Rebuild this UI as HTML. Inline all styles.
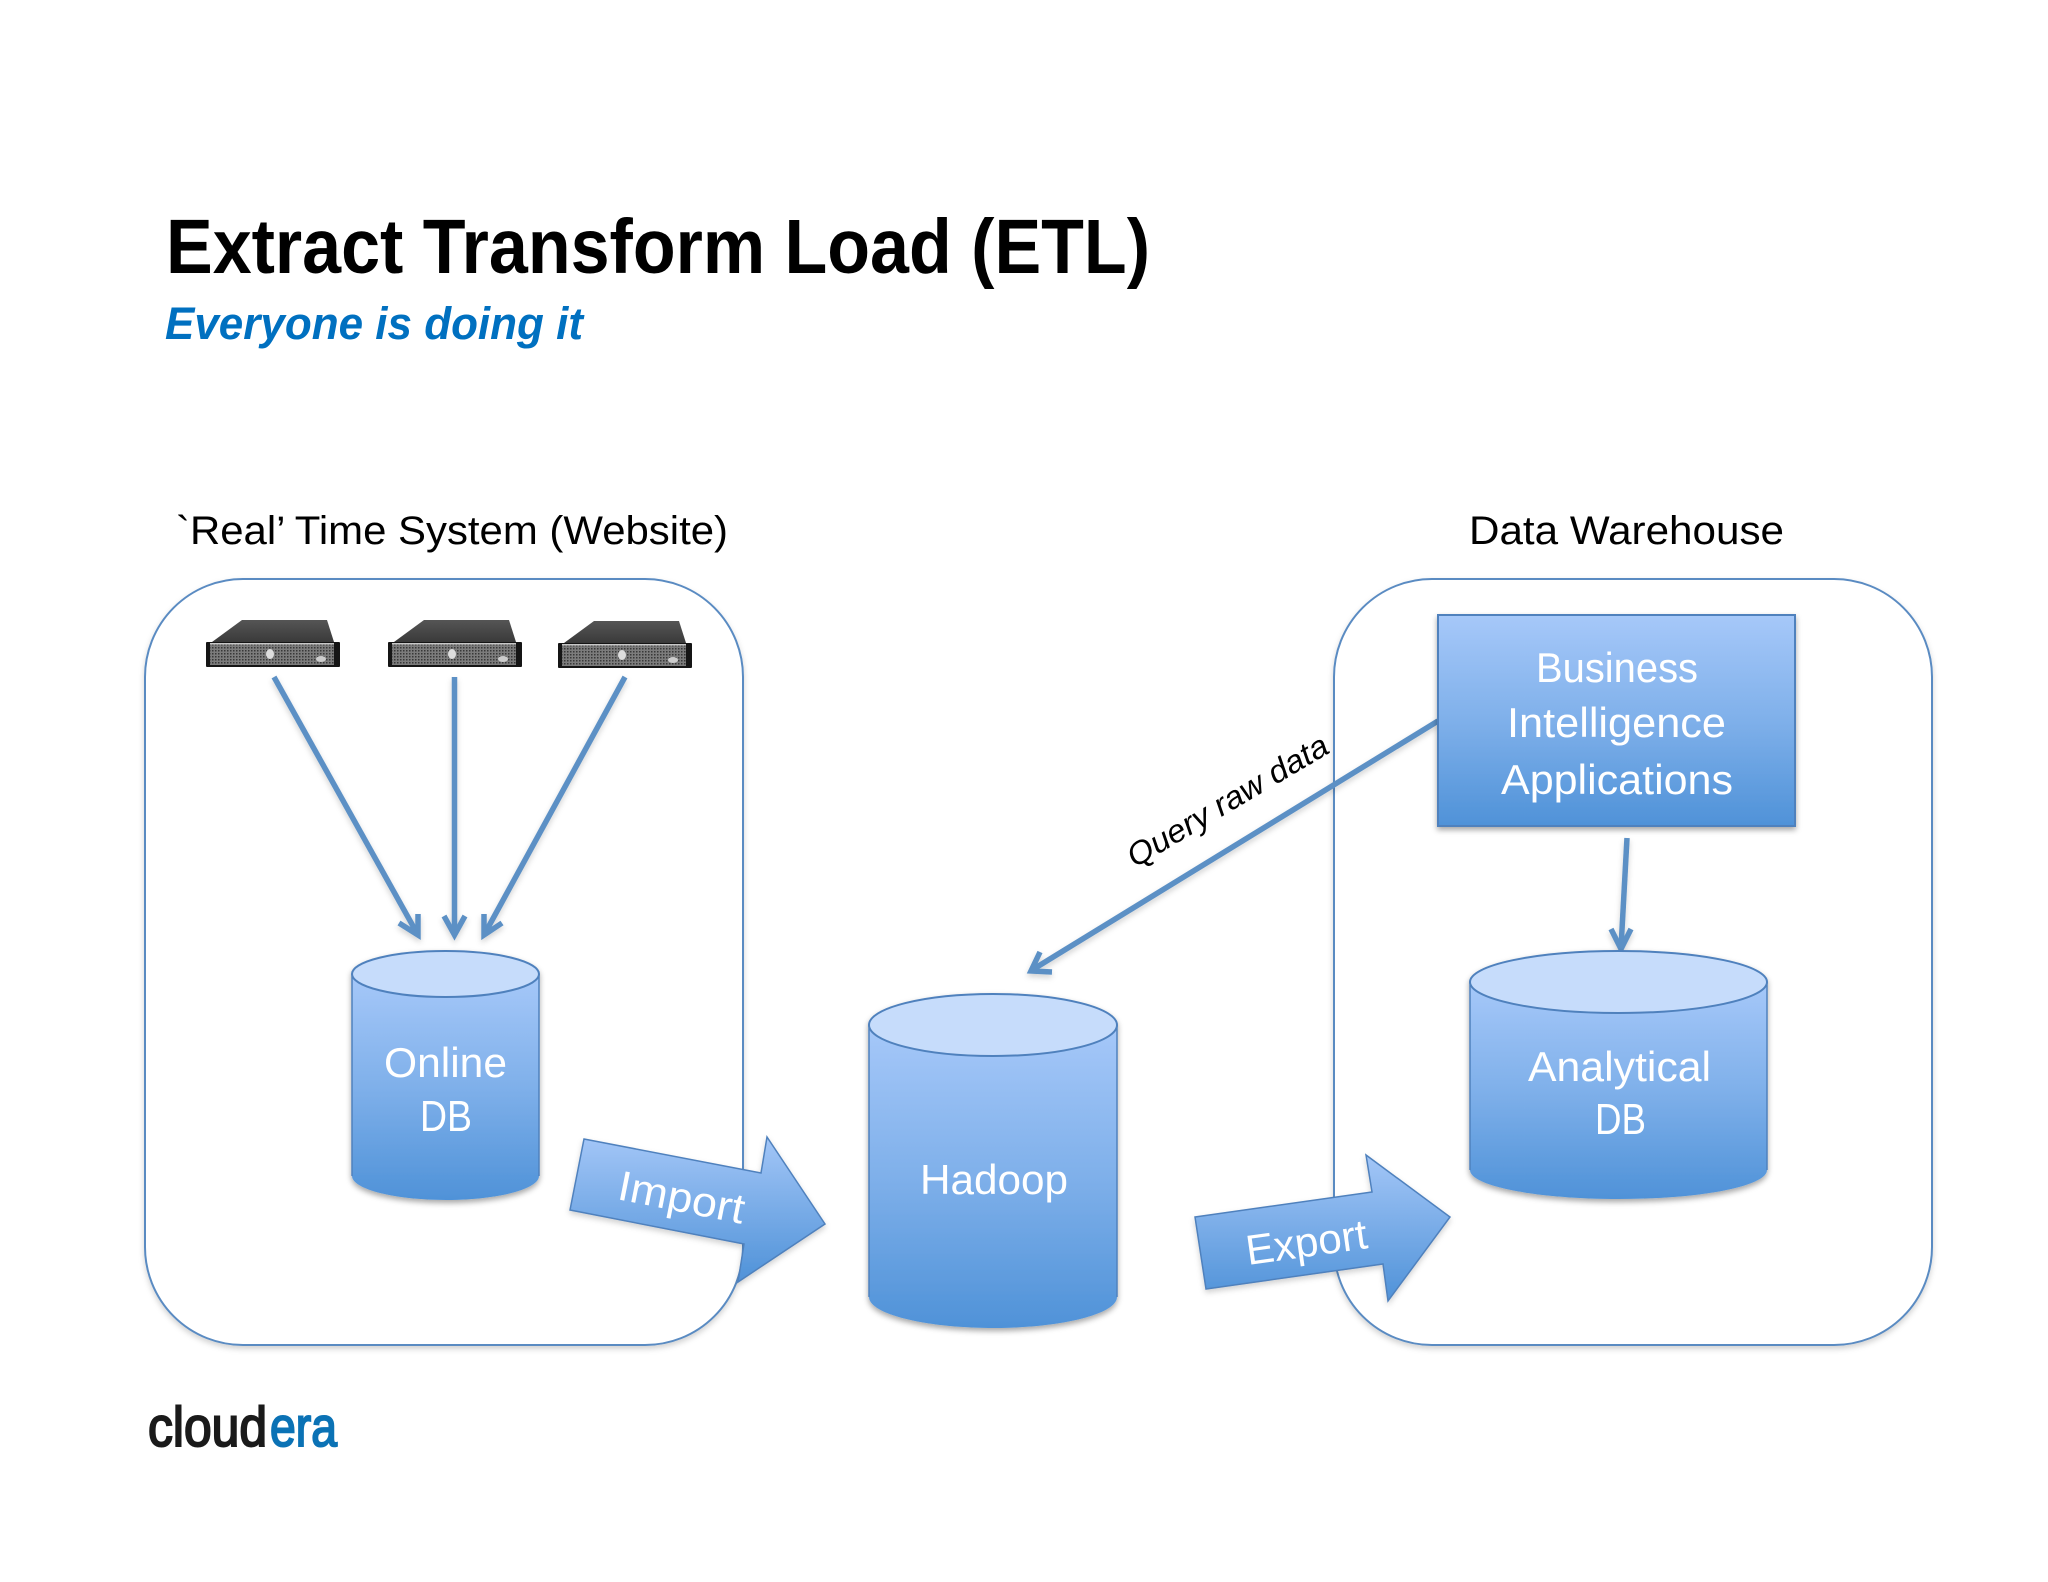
<!DOCTYPE html>
<html><head><meta charset="utf-8"><title>Extract Transform Load (ETL)</title>
<style>html,body{margin:0;padding:0;background:#fff}svg{display:block}text{font-family:"Liberation Sans",sans-serif}</style></head>
<body>
<svg width="2048" height="1582" viewBox="0 0 2048 1582" xmlns="http://www.w3.org/2000/svg">
<defs>
<linearGradient id="g" x1="0" y1="0" x2="0" y2="1"><stop offset="0" stop-color="#a6c8f9"/><stop offset=".5" stop-color="#7fb0ea"/><stop offset="1" stop-color="#4f92d8"/></linearGradient>
<linearGradient id="ga" x1="0" y1="0" x2="0" y2="1"><stop offset="0" stop-color="#a3c6f7"/><stop offset="1" stop-color="#4f92d8"/></linearGradient>
<linearGradient id="lid" x1="0" y1="0" x2="0" y2="1"><stop offset="0" stop-color="#555"/><stop offset="1" stop-color="#3a3a3a"/></linearGradient>
<pattern id="mesh" width="3" height="3" patternUnits="userSpaceOnUse"><rect width="3" height="3" fill="#7c7c7c"/><rect width="1.5" height="1.5" fill="#383838"/></pattern>
<filter id="s" x="-20%" y="-20%" width="140%" height="140%"><feDropShadow dx="0" dy="3" stdDeviation="3" flood-color="#000" flood-opacity=".35"/></filter>
<filter id="sl" x="-10%" y="-10%" width="120%" height="120%"><feDropShadow dx="0" dy="3" stdDeviation="3" flood-color="#000" flood-opacity=".18"/></filter>
<g id="srv">
<polygon points="36,0 121,0 128,22 6,22" fill="url(#lid)"/>
<rect x="0" y="22" width="134" height="25" rx="1" fill="#151515"/>
<rect x="4" y="24" width="124" height="21" fill="url(#mesh)"/>
<rect x="4" y="23" width="124" height="1.5" fill="#c8c8c8"/>
<ellipse cx="64" cy="34" rx="4" ry="5" fill="#ddd"/>
<ellipse cx="115" cy="39" rx="5" ry="3" fill="#ccc"/>
</g>
</defs>

<text x="166" y="273" font-size="77" font-weight="700" fill="#000" textLength="984" lengthAdjust="spacingAndGlyphs">Extract Transform Load (ETL)</text>
<text x="165" y="339" font-size="45" font-weight="700" font-style="italic" fill="#0070c0" textLength="418" lengthAdjust="spacingAndGlyphs">Everyone is doing it</text>
<text x="176" y="544" font-size="40" fill="#000" textLength="552" lengthAdjust="spacingAndGlyphs">`Real’ Time System (Website)</text>
<text x="1469" y="544" font-size="40" fill="#000" textLength="315" lengthAdjust="spacingAndGlyphs">Data Warehouse</text>

<rect x="145" y="579" width="598" height="766" rx="98" ry="98" fill="#fff" stroke="#5a8bc2" stroke-width="2" filter="url(#sl)"/>
<rect x="1336" y="579" width="598" height="766" rx="98" ry="98" fill="#fff" stroke="#5a8bc2" stroke-width="2" filter="url(#sl)" transform="translate(-2 0)"/>

<use href="#srv" x="206" y="620"/>
<use href="#srv" x="388" y="620"/>
<use href="#srv" x="558" y="621"/>

<g fill="none" stroke="#5b90c5" stroke-width="5.5" filter="url(#sl)">
<path d="M274 677L418 935"/><path d="M399 923L418 935L418 914"/>
<path d="M454.500 677V935"/><path d="M444 916L454.500 935L465 916"/>
<path d="M625 677L484 935"/><path d="M484 914L484 935L502 923"/>
<path d="M1438 721L1032 970"/><path d="M1040 952L1031 971L1052 972"/>
<path d="M1627 838L1621 948"/><path d="M1611 929L1621 949L1631 929"/>
</g>

<text x="0" y="0" font-size="32" font-style="italic" fill="#000" transform="translate(1135 868) rotate(-30.6)" textLength="228" lengthAdjust="spacingAndGlyphs">Query raw data</text>

<!-- Online DB -->
<g filter="url(#s)">
<path d="M352 974V1176C352 1189 394 1200 446 1200S539 1189 539 1176V974Z" fill="url(#g)"/>
<path d="M352 974V1176M539 974V1176" stroke="#4f81bd" stroke-width="1.5"/>
<ellipse cx="445.500" cy="974" rx="93.500" ry="23" fill="#c6dcfb" stroke="#4f81bd" stroke-width="2"/>
</g>
<text x="384" y="1077" font-size="42" fill="#fff" textLength="123" lengthAdjust="spacingAndGlyphs">Online</text>
<text x="420" y="1131" font-size="44" fill="#fff" textLength="52" lengthAdjust="spacingAndGlyphs">DB</text>

<!-- Hadoop -->
<g filter="url(#s)">
<path d="M869 1025V1297C869 1314 925 1328 993 1328S1117 1314 1117 1297V1025Z" fill="url(#g)"/>
<path d="M869 1025V1297M1117 1025V1297" stroke="#4f81bd" stroke-width="1.5"/>
<ellipse cx="993" cy="1025" rx="124" ry="31" fill="#c6dcfb" stroke="#4f81bd" stroke-width="2"/>
</g>
<text x="920" y="1194" font-size="42" fill="#fff" textLength="148" lengthAdjust="spacingAndGlyphs">Hadoop</text>

<!-- Analytical DB -->
<g filter="url(#s)">
<path d="M1470 982V1170C1470 1186 1536 1199 1619 1199S1767 1186 1767 1170V982Z" fill="url(#g)"/>
<path d="M1470 982V1170M1767 982V1170" stroke="#4f81bd" stroke-width="1.5"/>
<ellipse cx="1618.500" cy="982" rx="148.500" ry="31" fill="#c6dcfb" stroke="#4f81bd" stroke-width="2"/>
</g>
<text x="1528" y="1081" font-size="42" fill="#fff" textLength="183" lengthAdjust="spacingAndGlyphs">Analytical</text>
<text x="1595" y="1134" font-size="44" fill="#fff" textLength="51" lengthAdjust="spacingAndGlyphs">DB</text>

<!-- BI -->
<rect x="1438" y="615" width="357" height="211" fill="url(#g)" stroke="#4f81bd" stroke-width="2" filter="url(#s)"/>
<text x="1536" y="682" font-size="42" fill="#fff" textLength="162" lengthAdjust="spacingAndGlyphs">Business</text>
<text x="1507" y="737" font-size="42" fill="#fff" textLength="219" lengthAdjust="spacingAndGlyphs">Intelligence</text>
<text x="1501" y="794" font-size="42" fill="#fff" textLength="232" lengthAdjust="spacingAndGlyphs">Applications</text>

<!-- Import -->
<polygon points="584,1139 761,1173 767,1137 825,1224 738,1282 744,1244 570,1210" fill="url(#ga)" stroke="#4f81bd" stroke-width="1.5" filter="url(#sl)"/>
<text x="0" y="0" font-size="42" fill="#fff" transform="translate(616 1199) rotate(11.2)" textLength="128" lengthAdjust="spacingAndGlyphs">Import</text>

<!-- Export -->
<polygon points="1195,1217 1372,1192 1366,1155 1450,1217 1388,1301 1383,1264 1206,1289" fill="url(#ga)" stroke="#4f81bd" stroke-width="1.5" filter="url(#sl)"/>
<text x="0" y="0" font-size="42" fill="#fff" transform="translate(1248 1265) rotate(-8)" textLength="122" lengthAdjust="spacingAndGlyphs">Export</text>

<!-- Logo -->
<text x="148" y="1446" font-size="56" fill="#1a1a1a" stroke="#1a1a1a" stroke-width="2" textLength="119" lengthAdjust="spacingAndGlyphs">cloud</text>
<text x="270" y="1446" font-size="56" fill="#0b72b5" stroke="#0b72b5" stroke-width="2" textLength="67" lengthAdjust="spacingAndGlyphs">era</text>
</svg>
</body></html>
